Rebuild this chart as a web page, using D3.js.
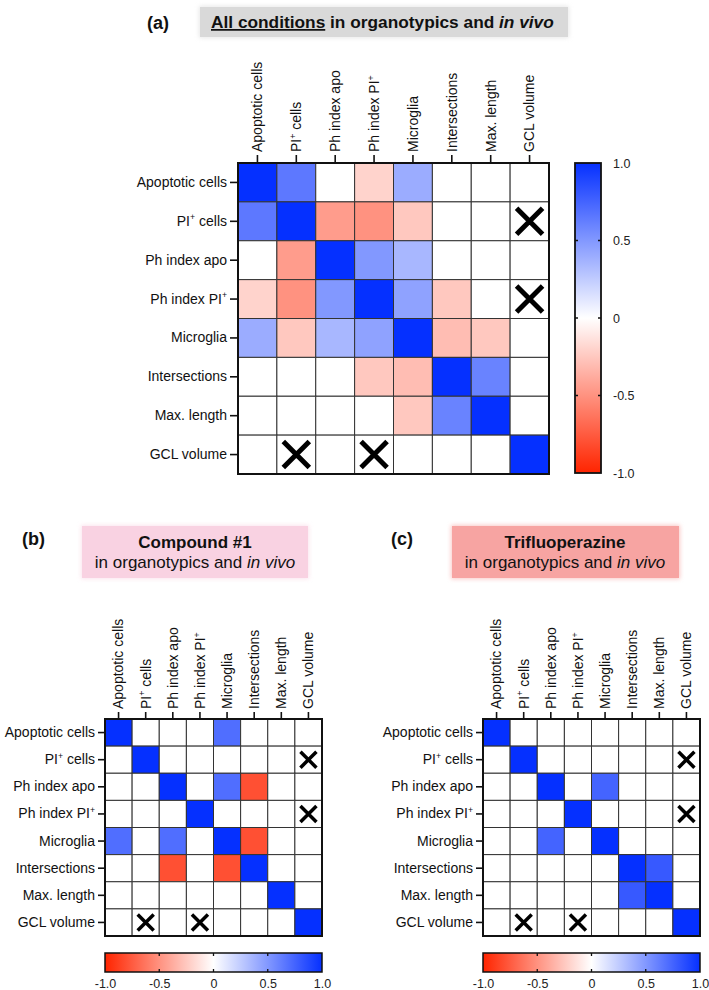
<!DOCTYPE html>
<html>
<head>
<meta charset="utf-8">
<script src="https://cdn.jsdelivr.net/npm/d3@7"></script>
<style>
  body { margin: 0; background: #fff; }
  svg { display: block; font-family: "Liberation Sans", Arial, sans-serif; }
</style>
</head>
<body>
<div id="chart"></div>
<script>
// variables, same order for rows and columns ("+" is drawn as superscript)
var labels = ["Apoptotic cells", "PI+ cells", "Ph index apo", "Ph index PI+",
              "Microglia", "Intersections", "Max. length", "GCL volume"];

// correlation values, null = crossed out (not tested)
var valuesAll = [
  [1.00, 0.65, 0.00, -0.20, 0.40, 0.00, 0.00, 0.00],
  [0.65, 1.00, -0.45, -0.50, -0.25, 0.00, 0.00, null],
  [0.00, -0.45, 1.00, 0.50, 0.35, 0.00, 0.00, 0.00],
  [-0.20, -0.50, 0.50, 1.00, 0.45, -0.25, 0.00, null],
  [0.40, -0.25, 0.35, 0.45, 1.00, -0.30, -0.25, 0.00],
  [0.00, 0.00, 0.00, -0.25, -0.30, 1.00, 0.60, 0.00],
  [0.00, 0.00, 0.00, 0.00, -0.25, 0.60, 1.00, 0.00],
  [0.00, null, 0.00, null, 0.00, 0.00, 0.00, 1.00]
];
var valuesCompound = [
  [1.00, 0.00, 0.00, 0.00, 0.70, 0.00, 0.00, 0.00],
  [0.00, 1.00, 0.00, 0.00, 0.00, 0.00, 0.00, null],
  [0.00, 0.00, 1.00, 0.00, 0.70, -0.80, 0.00, 0.00],
  [0.00, 0.00, 0.00, 1.00, 0.00, 0.00, 0.00, null],
  [0.70, 0.00, 0.70, 0.00, 1.00, -0.80, 0.00, 0.00],
  [0.00, 0.00, -0.80, 0.00, -0.80, 1.00, 0.00, 0.00],
  [0.00, 0.00, 0.00, 0.00, 0.00, 0.00, 1.00, 0.00],
  [0.00, null, 0.00, null, 0.00, 0.00, 0.00, 1.00]
];
var valuesTfp = [
  [1.00, 0.00, 0.00, 0.00, 0.00, 0.00, 0.00, 0.00],
  [0.00, 1.00, 0.00, 0.00, 0.00, 0.00, 0.00, null],
  [0.00, 0.00, 1.00, 0.00, 0.75, 0.00, 0.00, 0.00],
  [0.00, 0.00, 0.00, 1.00, 0.00, 0.00, 0.00, null],
  [0.00, 0.00, 0.75, 0.00, 1.00, 0.00, 0.00, 0.00],
  [0.00, 0.00, 0.00, 0.00, 0.00, 1.00, 0.80, 0.00],
  [0.00, 0.00, 0.00, 0.00, 0.00, 0.80, 1.00, 0.00],
  [0.00, null, 0.00, null, 0.00, 0.00, 0.00, 1.00]
];

var legendTicks = [-1, -0.5, 0, 0.5, 1];
var legendTickLabels = ["-1.0", "-0.5", "0", "0.5", "1.0"];
var legendMarks = [-0.5, 0, 0.5];

var W = 709, H = 990;
var color = d3.scaleLinear().domain([-1, 0, 1]).range(["#ff2400", "#ffffff", "#0530ff"]);

var svg = d3.select("#chart").append("svg").attr("width", W).attr("height", H);

// soft glow used behind the header boxes
var defs = svg.append("defs");
var glow = defs.append("filter").attr("id", "glow").attr("x", "-10%").attr("y", "-30%")
  .attr("width", "120%").attr("height", "160%");
glow.append("feGaussianBlur").attr("in", "SourceGraphic").attr("stdDeviation", 2);

var grad = defs.append("linearGradient").attr("id", "gradV")
  .attr("x1", 0).attr("y1", 1).attr("x2", 0).attr("y2", 0);
var gradH = defs.append("linearGradient").attr("id", "gradH")
  .attr("x1", 0).attr("y1", 0).attr("x2", 1).attr("y2", 0);
d3.range(-1, 1.001, 0.1).forEach(function(v) {
  grad.append("stop").attr("offset", ((v + 1) / 2 * 100) + "%").attr("stop-color", color(v));
  gradH.append("stop").attr("offset", ((v + 1) / 2 * 100) + "%").attr("stop-color", color(v));
});

// write a label, turning "+" into a raised small plus
function writeLabel(sel, s, fs) {
  sel.text(null);
  var parts = s.split("+");
  parts.forEach(function(p, i) {
    if (i > 0) {
      sel.append("tspan").attr("dy", -fs * 0.38).attr("font-size", fs * 0.62).text("+");
      sel.append("tspan").attr("dy", fs * 0.38).text(p);
    } else {
      sel.append("tspan").text(p);
    }
  });
}

function drawMatrix(opt) {
  var g = svg.append("g").attr("transform", "translate(" + opt.x + "," + opt.y + ")");
  var x = d3.scaleBand().domain(labels).range([0, opt.size]);
  var y = d3.scaleBand().domain(labels).range([0, opt.size]);
  var cells = [];
  opt.values.forEach(function(row, i) {
    row.forEach(function(v, j) { cells.push({r: labels[i], c: labels[j], v: v}); });
  });

  g.append("g").selectAll("rect").data(cells).enter().append("rect")
    .attr("x", d => x(d.c)).attr("y", d => y(d.r))
    .attr("width", x.bandwidth()).attr("height", y.bandwidth())
    .attr("fill", d => d.v === null ? "#fff" : color(d.v))
    .attr("stroke", "#333").attr("stroke-width", 1);

  var xs = cells.filter(d => d.v === null);
  var h = opt.cross / 2;
  g.append("g").selectAll("path").data(xs).enter().append("path")
    .attr("d", function(d) {
      var cx = x(d.c) + x.bandwidth() / 2, cy = y(d.r) + y.bandwidth() / 2;
      return "M" + (cx - h) + "," + (cy - h) + "L" + (cx + h) + "," + (cy + h) +
             "M" + (cx - h) + "," + (cy + h) + "L" + (cx + h) + "," + (cy - h);
    })
    .attr("stroke", "#000").attr("stroke-width", opt.crossW).attr("fill", "none");

  g.append("rect").attr("width", opt.size).attr("height", opt.size)
    .attr("fill", "none").attr("stroke", "#111").attr("stroke-width", 2);

  var left = g.append("g").attr("transform", "translate(-1,0)")
    .call(d3.axisLeft(y).tickSize(opt.tick).tickPadding(3));
  var top = g.append("g").attr("transform", "translate(0,-1)")
    .call(d3.axisTop(x).tickSize(opt.tick).tickPadding(3));
  [left, top].forEach(function(a) {
    a.select(".domain").remove();
    a.selectAll("line").attr("stroke", "#111").attr("stroke-width", 1.6);
    a.selectAll("text").attr("font-size", opt.fs).attr("fill", "#111")
      .attr("font-family", "'Liberation Sans', Arial, sans-serif")
      .each(function(d) { writeLabel(d3.select(this), d, opt.fs); });
  });
  top.selectAll("text")
    .attr("transform", "rotate(-90)")
    .attr("text-anchor", "start")
    .attr("x", opt.tick + 3).attr("y", 0).attr("dy", "0.35em");
  return g;
}

function drawLegendV(x0, y0, w, h) {
  var g = svg.append("g").attr("transform", "translate(" + x0 + "," + y0 + ")");
  var s = d3.scaleLinear().domain([-1, 1]).range([h, 0]);
  g.append("rect").attr("width", w).attr("height", h).attr("fill", "url(#gradV)")
    .attr("stroke", "#111").attr("stroke-width", 1.8);
  g.selectAll(".mk").data(legendMarks).enter().append("path").attr("class", "mk")
    .attr("d", d => "M0," + s(d) + "h3M" + w + "," + s(d) + "h-3")
    .attr("stroke", "#111").attr("stroke-width", 1.5);
  var ax = g.append("g").attr("transform", "translate(" + w + ",0)")
    .call(d3.axisRight(s).tickValues(legendTicks).tickSize(0).tickPadding(12)
      .tickFormat((d, i) => legendTickLabels[i]));
  ax.select(".domain").remove();
  ax.selectAll("text").attr("font-size", 12.5).attr("fill", "#222")
    .attr("font-family", "'Liberation Sans', Arial, sans-serif");
}

function drawLegendH(x0, y0, w, h) {
  var g = svg.append("g").attr("transform", "translate(" + x0 + "," + y0 + ")");
  var s = d3.scaleLinear().domain([-1, 1]).range([0, w]);
  g.append("rect").attr("width", w).attr("height", h).attr("fill", "url(#gradH)")
    .attr("stroke", "#111").attr("stroke-width", 1.5);
  g.selectAll(".mk").data(legendMarks).enter().append("path").attr("class", "mk")
    .attr("d", d => "M" + s(d) + ",0v3M" + s(d) + "," + h + "v-3")
    .attr("stroke", "#111").attr("stroke-width", 1.3);
  var ax = g.append("g").attr("transform", "translate(0," + h + ")")
    .call(d3.axisBottom(s).tickValues(legendTicks).tickSize(0).tickPadding(7)
      .tickFormat((d, i) => legendTickLabels[i]));
  ax.select(".domain").remove();
  ax.selectAll("text").attr("font-size", 12.5).attr("fill", "#222")
    .attr("font-family", "'Liberation Sans', Arial, sans-serif");
}

// headers
function header(opt) {
  svg.append("text").attr("x", opt.lx).attr("y", opt.ly)
    .attr("font-size", 18).attr("font-weight", "bold").attr("fill", "#111").text(opt.letter);
  svg.append("rect").attr("x", opt.bx - 1).attr("y", opt.by - 1)
    .attr("width", opt.bw + 2).attr("height", opt.bh + 2)
    .attr("fill", opt.fill).attr("opacity", 0.6).attr("filter", "url(#glow)");
  svg.append("rect").attr("x", opt.bx).attr("y", opt.by)
    .attr("width", opt.bw).attr("height", opt.bh).attr("fill", opt.fill);
}

header({letter: "(a)", lx: 147, ly: 29, bx: 200, by: 7, bw: 368, bh: 30, fill: "#d9d9d9"});
var ta = svg.append("text").attr("x", 211).attr("y", 28).attr("font-size", 17.3)
  .attr("font-weight", "bold").attr("fill", "#111");
ta.append("tspan").attr("text-decoration", "underline").text("All conditions");
ta.append("tspan").text(" in organotypics and ");
ta.append("tspan").attr("font-style", "italic").text("in vivo");

header({letter: "(b)", lx: 22, ly: 545, bx: 82, by: 526, bw: 226, bh: 52, fill: "#f9d2e2"});
header({letter: "(c)", lx: 391, ly: 545, bx: 452, by: 526, bw: 227, bh: 52, fill: "#f7a4a2"});

[{cx: 195, title: "Compound #1"}, {cx: 565, title: "Trifluoperazine"}].forEach(function(h) {
  svg.append("text").attr("x", h.cx).attr("y", 548).attr("text-anchor", "middle")
    .attr("font-size", 17).attr("font-weight", "bold").attr("fill", "#111").text(h.title);
  var t = svg.append("text").attr("x", h.cx).attr("y", 568).attr("text-anchor", "middle")
    .attr("font-size", 17).attr("fill", "#111");
  t.append("tspan").text("in organotypics and ");
  t.append("tspan").attr("font-style", "italic").text("in vivo");
});

drawMatrix({x: 238, y: 163, size: 311, values: valuesAll, fs: 14, tick: 7, cross: 26, crossW: 5});
drawLegendV(575, 163, 26, 310);

drawMatrix({x: 105, y: 719, size: 217, values: valuesCompound, fs: 14, tick: 6, cross: 16, crossW: 3.5});
drawLegendH(105, 953, 217, 19);

drawMatrix({x: 483, y: 719, size: 217, values: valuesTfp, fs: 14, tick: 6, cross: 16, crossW: 3.5});
drawLegendH(483, 953, 217, 19);
</script>
</body>
</html>
